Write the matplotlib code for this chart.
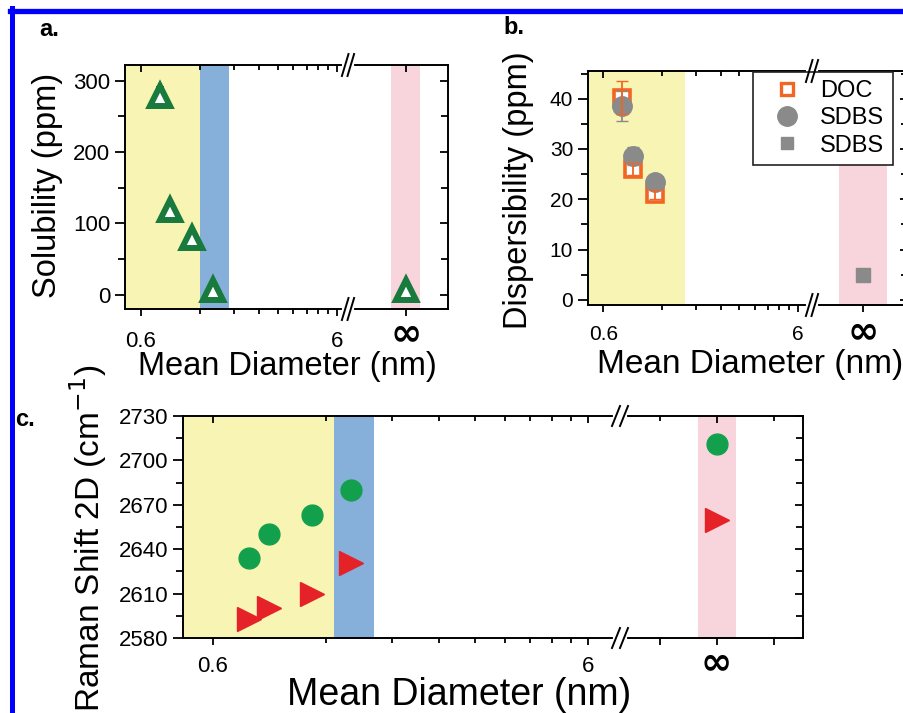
import matplotlib.pyplot as plt
import numpy as np
from matplotlib.lines import Line2D
from matplotlib.ticker import NullFormatter

plt.rcParams['font.family'] = ['Liberation Sans', 'DejaVu Sans']

W, H = 904, 713

# ---- data ----
diameter = [0.75, 0.85, 1.1, 1.4]          # nm, finite-diameter samples
# a. solubility (ppm)
solubility = [279, 119, 80, 7]
solubility_err = [9, 6, 6, 5]
solubility_inf = [7]
solubility_inf_err = [4]
# b. dispersibility (ppm)
disp_doc = [40.2, 26.0, 21.0]
disp_doc_err = [3.3, 1.2, 0.9]
disp_sdbs = [38.6, 28.6, 23.5]
disp_sdbs_err = [3.0, 1.8, 1.0]
disp_sdbs_inf = [4.9]
# c. Raman 2D shift (cm-1)
raman_circ = [2634, 2650, 2663, 2680]
raman_circ_inf = [2711]
raman_tri = [2593, 2600, 2610, 2631]
raman_tri_inf = [2660]

log_minor = [0.6 * k for k in range(2, 10)]

yellow = '#F8F4B4'
blue = '#86AFDA'
pink = '#F8D4DC'
dkgreen = '#187A3C'
green = '#13A04C'
red = '#E52228'
orange = '#F26522'
gray = '#8A8A8A'

fig = plt.figure(figsize=(W / 100, H / 100), dpi=100)


def make_panel(xl, xm, xr, yt, yb, log_right, r_lim, r_minor, ylim, ymajor, yminor,
               fs, xpad, infpad):
    axl = fig.add_axes([xl / W, 1 - yb / H, (xm - xl) / W, (yb - yt) / H])
    axr = fig.add_axes([xm / W, 1 - yb / H, (xr - xm) / W, (yb - yt) / H])
    axl.set_xscale('log')
    axl.set_xlim(0.5, log_right)
    axr.set_xlim(*r_lim)
    for ax in (axl, axr):
        ax.set_ylim(*ylim)
        ax.set_yticks(ymajor)
        ax.set_yticks(yminor, minor=True)
        for s in ax.spines.values():
            s.set_linewidth(1.4)
    axl.spines['right'].set_visible(False)
    axr.spines['left'].set_visible(False)

    axl.set_xticks([0.6, 6], ['0.6', '6'])
    axl.set_xticks(log_minor, minor=True)
    axl.xaxis.set_minor_formatter(NullFormatter())
    axl.tick_params(axis='y', which='major', direction='out', length=7.2, width=1.3,
                    labelsize=fs, pad=3.5)
    axl.tick_params(axis='y', which='minor', direction='out', length=4.8, width=1.3)
    axl.tick_params(axis='x', which='major', direction='out', length=5, width=1.3,
                    labelsize=fs, pad=xpad)
    axl.tick_params(axis='x', which='minor', direction='out', length=3.8, width=1.3)

    axr.set_xticks([0], ['\u221e'], fontsize=27, fontweight='bold',
                   family='DejaVu Sans', va='center')
    axr.set_xticks(r_minor, minor=True)
    axr.tick_params(axis='x', which='both', direction='out', length=5, width=1.3,
                    pad=infpad)
    axr.yaxis.tick_right()
    axr.tick_params(axis='y', which='major', direction='in', length=6, width=1.3,
                    labelright=False)
    axr.tick_params(axis='y', which='minor', direction='in', length=5, width=1.3)

    # top ticks point inwards
    for ax, maj, mnr in ((axl, [0.6, 6], log_minor), (axr, [0], r_minor)):
        top = ax.secondary_xaxis('top')
        top.set_xticks(maj)
        top.set_xticks(mnr, minor=True)
        top.xaxis.set_minor_formatter(NullFormatter())
        top.tick_params(which='major', direction='in', length=5, width=1.3, labeltop=False)
        top.tick_params(which='minor', direction='in', length=3.8, width=1.3, labeltop=False)
        top.spines['top'].set_visible(False)
    return axl, axr


def break_marks(xm, yt, yb, h=11, w=3.3, gap=2.8):
    for y in (yt, yb):
        fig.add_artist(Line2D([(xm - gap - 1) / W, (xm + gap + 1) / W], [1 - y / H] * 2,
                              color='white', lw=3, transform=fig.transFigure, zorder=5))
        for dx in (-gap, gap):
            fig.add_artist(Line2D([(xm + dx - w) / W, (xm + dx + w) / W],
                                  [1 - (y + h) / H, 1 - (y - h) / H],
                                  color='k', lw=1.4, transform=fig.transFigure, zorder=6))


# ---------------- a. ----------------
axl, axr = make_panel(125, 348, 448, 65, 309, 6.82, (-2.0, 1.45), [],
                      (-20, 322), [0, 100, 200, 300], [50, 150, 250], 16, 11, 13)
axl.axvspan(0.5, 1.21, color=yellow, lw=0, zorder=0)
axl.axvspan(1.21, 1.70, color=blue, lw=0, zorder=0)
axr.axvspan(-0.5, 0.5, color=pink, lw=0, zorder=0)
axl.errorbar(diameter, solubility, yerr=solubility_err, fmt='^', ms=14, mfc='white',
             mec=dkgreen, mew=4.3, ecolor=dkgreen, elinewidth=1.3, capsize=3, zorder=3)
axr.errorbar([0], solubility_inf, yerr=solubility_inf_err, fmt='^', ms=14, mfc='white',
             mec=dkgreen, mew=4.3, ecolor=dkgreen, elinewidth=1.3, capsize=3, zorder=3)
break_marks(348, 65, 309)
fig.text(48 / W, 1 - 185 / H, 'Solubility (ppm)', rotation=90, fontsize=23.5,
         ha='center', va='center')
fig.text(287 / W, 1 - 367 / H, 'Mean Diameter (nm)', fontsize=23.5, ha='center', va='center')
fig.text(49 / W, 1 - 30 / H, 'a.', fontsize=17, fontweight='bold', ha='center', va='center')

# ---------------- b. ----------------
axl, axr = make_panel(588, 812, 908, 71, 305, 7.08, (-1.06, 0.94), [],
                      (-1, 45.5), [0, 10, 20, 30, 40], [5, 15, 25, 35, 45], 15, 9.4, 14.8)
axl.axvspan(0.5, 1.57, color=yellow, lw=0, zorder=0)
axr.axvspan(-0.5, 0.5, color=pink, lw=0, zorder=0)
axl.plot(diameter[:3], disp_doc, 's', ms=11, mfc='white', mec=orange, mew=2.6, zorder=3)
axl.plot(diameter[:3], disp_sdbs, 'o', ms=14, color=gray, zorder=4)
axl.errorbar(diameter[:3], disp_sdbs, yerr=disp_sdbs_err, fmt='none', ecolor=gray,
             elinewidth=1.3, capsize=4, zorder=5)
axl.errorbar(diameter[:3], disp_doc, yerr=disp_doc_err, fmt='none', ecolor=orange,
             elinewidth=1.3, capsize=4, zorder=6)
axr.plot([0], disp_sdbs_inf, 's', ms=10, color=gray, zorder=3)
break_marks(812, 71, 305)
handles = [Line2D([], [], ls='none', marker='s', ms=8, mfc='white', mec=orange, mew=2.4),
           Line2D([], [], ls='none', marker='o', ms=14, color=gray),
           Line2D([], [], ls='none', marker='s', ms=8, color=gray)]
leg = fig.legend(handles, ['DOC', 'SDBS', 'SDBS'], loc='upper left',
                 bbox_to_anchor=(753 / W, 1 - 72 / H), borderaxespad=0, fontsize=17,
                 handlelength=2.2, handletextpad=0.3, labelspacing=0.22, borderpad=0.35,
                 fancybox=False, framealpha=1, edgecolor='#222222')
leg.get_frame().set_linewidth(1.2)
fig.text(519 / W, 1 - 190 / H, 'Dispersibility (ppm)', rotation=90, fontsize=23.5,
         ha='center', va='center')
fig.text(750 / W, 1 - 364 / H, 'Mean Diameter (nm)', fontsize=24, ha='center', va='center')
fig.text(514 / W, 1 - 28 / H, 'b.', fontsize=17, fontweight='bold', ha='center', va='center')

# ---------------- c. ----------------
axl, axr = make_panel(183, 620, 803, 416, 638, 7.30, (-2.54, 2.27), [-1.5, 1.5],
                      (2580, 2730), np.arange(2580, 2731, 30), np.arange(2595, 2730, 30),
                      16, 8.2, 13)
axl.axvspan(0.5, 1.26, color=yellow, lw=0, zorder=0)
axl.axvspan(1.26, 1.61, color=blue, lw=0, zorder=0)
axr.axvspan(-0.5, 0.5, color=pink, lw=0, zorder=0)
axl.plot(diameter, raman_circ, 'o', ms=15, color=green, zorder=3)
axl.plot(diameter, raman_tri, '>', ms=17, color=red, zorder=3)
axr.plot([0], raman_circ_inf, 'o', ms=15, color=green, zorder=3)
axr.plot([0], raman_tri_inf, '>', ms=17, color=red, zorder=3)
break_marks(620, 416, 638, h=10, w=4, gap=4)
fig.text(88 / W, 1 - 538 / H, 'Raman Shift 2D (cm$^{-1}$)', rotation=90, fontsize=24,
         ha='center', va='center')
fig.text(459 / W, 1 - 695 / H, 'Mean Diameter (nm)', fontsize=27, ha='center', va='center')
fig.text(25 / W, 1 - 420 / H, 'c.', fontsize=17, fontweight='bold', ha='center', va='center')

# blue frame around the figure
fig.add_artist(Line2D([12.5 / W, 12.5 / W], [0, 1 - 8 / H], color='#0000FF', lw=3.6,
                      transform=fig.transFigure))
fig.add_artist(Line2D([10 / W, 1], [1 - 11 / H] * 2, color='#0000FF', lw=3.8,
                      transform=fig.transFigure))

fig.savefig('out.png', dpi=100)
